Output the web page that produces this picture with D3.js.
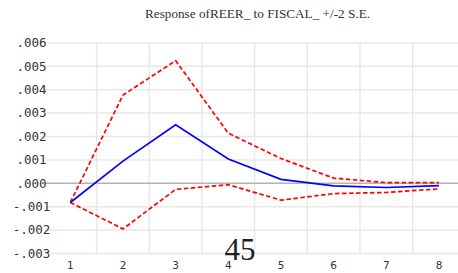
<!DOCTYPE html>
<html><head><meta charset="utf-8">
<script src="https://cdn.jsdelivr.net/npm/d3@7"></script>
<style>html,body{margin:0;padding:0;background:#fff;}svg{display:block;}</style>
</head><body>
<script>
const periods = [1, 2, 3, 4, 5, 6, 7, 8];
const response = [-0.00082, 0.00095, 0.00250, 0.00104, 0.00017, -0.00011, -0.00018, -0.00010];
const upperBand = [-0.00082, 0.00377, 0.00524, 0.00214, 0.00106, 0.00022, 0.00003, 0.00003];
const lowerBand = [-0.00082, -0.00195, -0.00026, -0.00006, -0.00072, -0.00044, -0.00039, -0.00024];
const yTicks = [-0.003, -0.002, -0.001, 0, 0.001, 0.002, 0.003, 0.004, 0.005, 0.006];
const titleText = "Response ofREER_ to FISCAL_ +/-2 S.E.";
const pageLabel = "45";

const W = 458, H = 273;
const svg = d3.select("body").append("svg").attr("width", W).attr("height", H);

const x = d3.scaleBand().domain(periods).range([44, 465.3]).padding(0);
const xc = d => x(d) + x.bandwidth() / 2;
const y = d3.scaleLinear().domain([-0.003, 0.006]).range([253.5, 42.9]);

const grid = svg.append("g");
grid.selectAll("line.h").data(yTicks.filter(t => t !== 0)).enter().append("line")
  .attr("x1", 45).attr("x2", W).attr("y1", d => y(d)).attr("y2", d => y(d))
  .attr("stroke", "#e8e8e8").attr("stroke-width", 1.5);
grid.selectAll("line.v").data(periods.slice(1)).enter().append("line")
  .attr("x1", d => x(d)).attr("x2", d => x(d)).attr("y1", 43).attr("y2", 253.5)
  .attr("stroke", "#e8e8e8").attr("stroke-width", 1.5);
svg.append("line").attr("x1", 45).attr("x2", W).attr("y1", y(0)).attr("y2", y(0))
  .attr("stroke", "#b4b4b4").attr("stroke-width", 1.5);

const fmt = v => {
  if (Math.abs(v) < 1e-12) return ".000";
  const s = d3.format(".3f")(Math.abs(v)).replace(/^0/, "");
  return (v < 0 ? "-" : "") + s;
};
svg.append("g").selectAll("text").data(yTicks).enter().append("text")
  .attr("x", 31.5).attr("y", d => y(d)).attr("dy", "0.35em")
  .attr("text-anchor", "middle")
  .style("font-family", "'DejaVu Sans Mono', monospace").style("font-size", "12.5px")
  .attr("fill", "#333")
  .text(fmt);

svg.append("g").selectAll("text").data(periods).enter().append("text")
  .attr("x", d => xc(d)).attr("y", 268.5)
  .attr("text-anchor", "middle")
  .style("font-family", "'DejaVu Sans', sans-serif").style("font-size", "10.5px")
  .attr("fill", "#333")
  .text(d => d);

const line = d3.line().x((d, i) => xc(periods[i])).y(d => y(d));

svg.append("path").datum(upperBand).attr("d", line).attr("fill", "none")
  .attr("stroke", "#ff0000").attr("stroke-width", 1.7).attr("stroke-dasharray", "4.5,2.5");
svg.append("path").datum(lowerBand).attr("d", line).attr("fill", "none")
  .attr("stroke", "#ff0000").attr("stroke-width", 1.7).attr("stroke-dasharray", "4.5,2.5");
svg.append("path").datum(response).attr("d", line).attr("fill", "none")
  .attr("stroke", "#0000ff").attr("stroke-width", 1.7);

svg.append("text").attr("x", 257.5).attr("y", 18)
  .attr("text-anchor", "middle")
  .style("font-family", "'Liberation Serif', serif").style("font-size", "11.5px")
  .attr("fill", "#333")
  .attr("textLength", 225).attr("lengthAdjust", "spacingAndGlyphs")
  .text(titleText);

svg.append("text").attr("x", 240).attr("y", 259.5)
  .attr("text-anchor", "middle")
  .style("font-family", "'Liberation Serif', serif").style("font-size", "31px")
  .attr("fill", "#222")
  .text(pageLabel);
</script>
</body></html>
